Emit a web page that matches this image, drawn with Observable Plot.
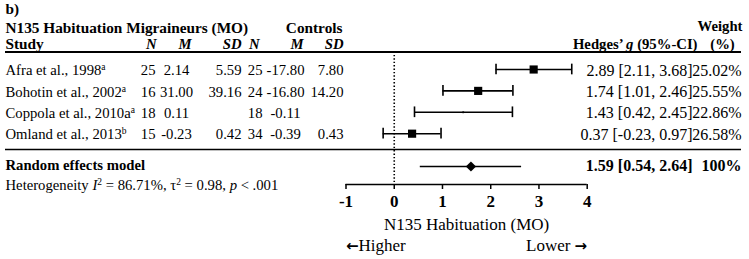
<!DOCTYPE html>
<html><head><meta charset="utf-8">
<script src="https://cdn.jsdelivr.net/npm/d3@7"></script>
<script src="https://cdn.jsdelivr.net/npm/@observablehq/plot@0.6"></script>
<style>
html,body{margin:0;padding:0;background:#fff;}
svg{display:block;}
</style></head><body><div id="chart"></div>
<script>
// ---- data ----
const studies = ["Afra et al., 1998", "Bohotin et al., 2002", "Coppola et al., 2010a", "Omland et al., 2013"];
const footnotes = ["a", "a", "a", "b"];
const migN = ["25", "16", "18", "15"];
const migM = ["2.14", "31.00", "0.11", "-0.23"];
const migSD = ["5.59", "39.16", "", "0.42"];
const ctlN = ["25", "24", "18", "34"];
const ctlM = ["-17.80", "-16.80", "-0.11", "-0.39"];
const ctlSD = ["7.80", "14.20", "", "0.43"];
const hedgesG = [2.89, 1.74, 1.43, 0.37];
const ciLow = [2.11, 1.01, 0.42, -0.23];
const ciHigh = [3.68, 2.46, 2.45, 0.97];
const weights = ["25.02%", "25.55%", "22.86%", "26.58%"];
const pooledG = 1.59, pooledLow = 0.54, pooledHigh = 2.64, pooledWeight = "100%";
const hetI2 = "86.71%", hetTau2 = "0.98", hetP = "< .001";
const xTicks = [-1, 0, 1, 2, 3, 4];
const axisTitle = "N135 Habituation (MO)";

// ---- layout (code, not data) ----
const FONT = "'Liberation Serif', 'Times New Roman', serif";
const FS = 14.7, FH = 15.3, FR = 16, FA = 17;
const AXIS_ROW = 5.375;         // frame bottom in row units
const HEAD_RULE = -0.818, SEP_RULE = 3.74, RE_ROW = 4.534, CAP = 0.25;
const tinyMarker = new Set(["Coppola et al., 2010a"]);

const rows = studies.map((s, i) => ({
  i, study: s, fn: footnotes[i], migN: migN[i], migM: migM[i], migSD: migSD[i],
  ctlN: ctlN[i], ctlM: ctlM[i], ctlSD: ctlSD[i], g: hedgesG[i], lo: ciLow[i], hi: ciHigh[i],
  w: weights[i], ci: `${hedgesG[i].toFixed(2)} [${ciLow[i].toFixed(2)}, ${ciHigh[i].toFixed(2)}]`,
  r: tinyMarker.has(s) ? 1 : 4.6
}));
const pooled = [{g: pooledG, lo: pooledLow, hi: pooledHigh, w: pooledWeight,
  ci: `${pooledG.toFixed(2)} [${pooledLow.toFixed(2)}, ${pooledHigh.toFixed(2)}]`}];

const rowText = (field, dx, anchor = "end", extra = {}) =>
  Plot.text(rows, {y: "i", text: field, frameAnchor: "left", lineAnchor: "middle", dx, dy: 1, textAnchor: anchor, fontSize: FS, ...extra});
const headText = (txt, dx, dy, anchor, extra = {}) =>
  Plot.text([txt], {frameAnchor: "top-left", lineAnchor: "middle", dx, dy, textAnchor: anchor, fontSize: FS, fontWeight: "bold", ...extra});

const plot = Plot.plot({
  width: 749, height: 259,
  marginTop: 0, marginRight: 0, marginBottom: 75, marginLeft: 0,
  x: {domain: [-1, 4], range: [345.5, 586.7], axis: null},
  y: {domain: [0, AXIS_ROW], range: [69, 184], axis: null},
  r: {type: "identity"},
  style: {fontFamily: FONT, fontSize: FS + "px", color: "#000", background: "#fff", overflow: "visible"},
  marks: [
    // table rules
    Plot.ruleY([HEAD_RULE], {insetLeft: 5, insetRight: 8, strokeWidth: 2}),
    Plot.ruleY([SEP_RULE], {insetLeft: 5, insetRight: 8, strokeWidth: 1.6}),
    // null line
    Plot.ruleX([0], {y1: HEAD_RULE, y2: AXIS_ROW, strokeWidth: 1.6, strokeDasharray: "1.4,2"}),
    // CIs
    Plot.ruleY(rows, {y: "i", x1: "lo", x2: "hi", strokeWidth: 1.6}),
    Plot.ruleX(rows, {x: "lo", y1: d => d.i - CAP, y2: d => d.i + CAP, strokeWidth: 1.6}),
    Plot.ruleX(rows, {x: "hi", y1: d => d.i - CAP, y2: d => d.i + CAP, strokeWidth: 1.6}),
    Plot.dot(rows, {x: "g", y: "i", r: "r", symbol: "square", fill: "currentColor", stroke: null}),
    // pooled
    Plot.ruleY(pooled, {y: RE_ROW, x1: "lo", x2: "hi", strokeWidth: 1.6}),
    Plot.dot(pooled, {x: "g", y: RE_ROW, r: 4.6, symbol: "diamond2", fill: "currentColor", stroke: null}),
    // axis
    Plot.ruleY([AXIS_ROW], {x1: xTicks[0], x2: xTicks[xTicks.length - 1], strokeWidth: 1.5}),
    Plot.axisX(xTicks, {tickSize: 5, tickPadding: 5, strokeWidth: 1.5, tickFormat: d => String(d), fontSize: FA, fontWeight: "bold"}),
    Plot.text([axisTitle], {x: (xTicks[0] + xTicks[xTicks.length - 1]) / 2, frameAnchor: "bottom", lineAnchor: "middle", dy: 40, fontSize: FA}),
    Plot.text(["\u2190Higher"], {x: xTicks[0], frameAnchor: "bottom", lineAnchor: "middle", dy: 61, textAnchor: "start", fontSize: FA}),
    Plot.text(["Lower \u2192"], {x: xTicks[xTicks.length - 1], frameAnchor: "bottom", lineAnchor: "middle", dy: 61, textAnchor: "end", fontSize: FA}),
    // headers
    headText("b)", 5, 9, "start", {fontSize: FH}),
    headText("N135 Habituation Migraineurs (MO)", 5, 28, "start", {fontSize: FH}),
    headText("Controls", 342, 28, "end", {fontSize: FH}),
    headText("Weight", 742, 26, "end"),
    headText("Study", 5, 44, "start", {fontSize: FH}),
    headText("N", 156, 44, "end", {fontStyle: "italic"}),
    headText("M", 191, 44, "end", {fontStyle: "italic"}),
    headText("SD", 241, 44, "end", {fontStyle: "italic"}),
    headText("N", 259, 44, "end", {fontStyle: "italic"}),
    headText("M", 303, 44, "end", {fontStyle: "italic"}),
    headText("SD", 343, 44, "end", {fontStyle: "italic"}),
    headText("Hedges\u2019 g (95%-CI)", 697, 44, "end"),
    headText("(%)", 722, 44, "middle"),
    // study rows
    rowText("study", 5, "start"),
    rowText("migN", 155),
    rowText("migM", 176, "middle"),
    rowText("migSD", 241),
    rowText("ctlN", 262),
    rowText("ctlM", 285, "middle"),
    rowText("ctlSD", 343),
    rowText("ci", 692, "end", {fontSize: FR}),
    rowText("w", 741, "end", {fontSize: FR}),
    // pooled row
    Plot.text(["Random effects model"], {y: RE_ROW, frameAnchor: "left", lineAnchor: "middle", dx: 5, dy: -1, textAnchor: "start", fontWeight: "bold", fontSize: FS}),
    Plot.text(pooled, {y: RE_ROW, text: "ci", frameAnchor: "left", lineAnchor: "middle", dx: 692, dy: -1, textAnchor: "end", fontWeight: "bold", fontSize: FR}),
    Plot.text(pooled, {y: RE_ROW, text: "w", frameAnchor: "left", lineAnchor: "middle", dx: 741, dy: -1, textAnchor: "end", fontWeight: "bold", fontSize: FR}),
    Plot.text(["HET"], {y: RE_ROW, frameAnchor: "left", lineAnchor: "middle", dx: 5, dy: 19, textAnchor: "start", fontSize: FS})
  ]
});

// rich-text touch-ups (italics / superscripts / arrows) on real SVG text
const ns = "http://www.w3.org/2000/svg";
function span(parent, txt, attrs = {}) {
  const t = document.createElementNS(ns, "tspan");
  t.textContent = txt;
  for (const [k, v] of Object.entries(attrs)) t.setAttribute(k, v);
  parent.appendChild(t);
  return t;
}
const arrowFont = {"font-family": "'DejaVu Sans', sans-serif", "font-weight": "bold", "font-size": "15"};
plot.querySelectorAll("text").forEach(t => {
  const s = t.textContent;
  const idx = studies.indexOf(s);
  if (idx >= 0) {
    span(t, footnotes[idx], {"font-size": "9.5", dy: "-5"});
  } else if (s === "Hedges\u2019 g (95%-CI)") {
    t.textContent = "";
    span(t, "Hedges\u2019 ");
    span(t, "g", {"font-style": "italic"});
    span(t, " (95%-CI)");
  } else if (s === "\u2190Higher") {
    t.textContent = "";
    span(t, "\u2190", arrowFont);
    span(t, "Higher");
  } else if (s === "Lower \u2192") {
    t.textContent = "";
    span(t, "Lower ");
    span(t, "\u2192", arrowFont);
  } else if (s === "HET") {
    t.textContent = "";
    span(t, "Heterogeneity ");
    span(t, "I", {"font-style": "italic"});
    span(t, "2", {"font-size": "9.5", dy: "-5"});
    span(t, " = " + hetI2 + ", \u03C4", {dy: "5"});
    span(t, "2", {"font-size": "9.5", dy: "-5"});
    span(t, " = " + hetTau2 + ", ", {dy: "5"});
    span(t, "p", {"font-style": "italic"});
    span(t, " " + hetP);
  }
});
document.getElementById("chart").appendChild(plot);
</script>
</body></html>
